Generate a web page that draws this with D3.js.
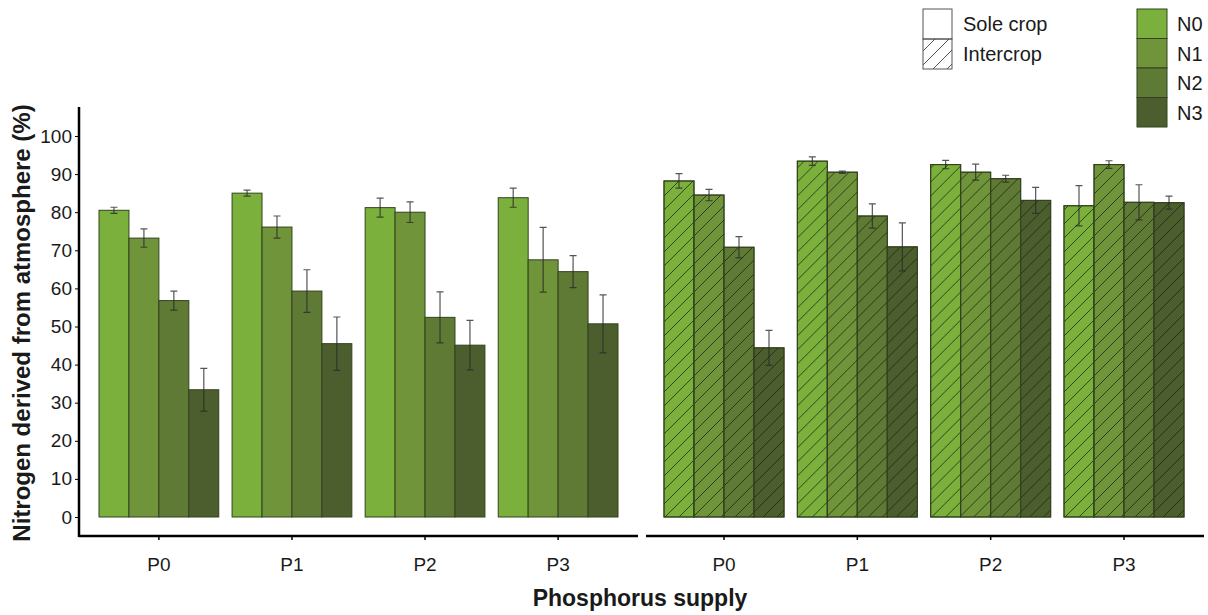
<!DOCTYPE html>
<html>
<head>
<meta charset="utf-8">
<script src="https://cdn.jsdelivr.net/npm/d3@7"></script>
<style>
  body { margin: 0; background: #fff; }
  text { font-family: "Liberation Sans", Arial, sans-serif; fill: #1a1a1a; }
</style>
</head>
<body>
<script>
// values
const phosphorus = ['P0', 'P1', 'P2', 'P3'];
const nitrogen = ['N0', 'N1', 'N2', 'N3'];
const cropping = ['Sole crop', 'Intercrop'];

// rows = phosphorus level, columns = nitrogen level
const soleMeans = [
  [80.5, 73.2, 56.8, 33.4],
  [85.0, 76.1, 59.3, 45.5],
  [81.2, 80.0, 52.4, 45.1],
  [83.8, 67.5, 64.4, 50.7]
];
const soleErrors = [
  [0.8, 2.4, 2.5, 5.6],
  [0.8, 2.9, 5.6, 7.0],
  [2.5, 2.7, 6.7, 6.5],
  [2.5, 8.5, 4.2, 7.6]
];
const interMeans = [
  [88.2, 84.5, 70.8, 44.4],
  [93.4, 90.5, 79.0, 70.9],
  [92.5, 90.5, 88.8, 83.1],
  [81.7, 92.5, 82.6, 82.5]
];
const interErrors = [
  [1.9, 1.5, 2.8, 4.6],
  [1.1, 0.3, 3.2, 6.3],
  [1.1, 2.1, 0.9, 3.4],
  [5.3, 1.0, 4.6, 1.7]
];
const yTicks = [0, 10, 20, 30, 40, 50, 60, 70, 80, 90, 100];

const width = 1208, height = 615;
const greens = d3.scaleOrdinal()
  .domain(nitrogen)
  .range(['#7bb03c', '#6f9439', '#5f7a34', '#4c5e2e']);

const svg = d3.select('body').append('svg')
  .attr('width', width)
  .attr('height', height);

// hatch for the intercrop bars
svg.append('defs').append('pattern')
  .attr('id', 'hatch')
  .attr('patternUnits', 'userSpaceOnUse')
  .attr('width', 14)
  .attr('height', 14)
  .append('path')
    .attr('d', 'M0,14 L14,0 M-3.5,3.5 L3.5,-3.5 M10.5,17.5 L17.5,10.5')
    .attr('stroke', 'rgba(25,35,15,0.75)')
    .attr('stroke-width', 1);

const y = d3.scaleLinear().domain([0, 100]).range([517, 136]);
const axisY = 536;

const panels = [
  { name: cropping[0], means: soleMeans, errors: soleErrors, range: [99, 618], line: [79, 638], hatch: false },
  { name: cropping[1], means: interMeans, errors: interErrors, range: [664, 1184], line: [646, 1204], hatch: true }
];

panels.forEach(panel => {
  const x = d3.scaleBand().domain(phosphorus).range(panel.range).paddingInner(0.1);
  const xn = d3.scaleBand().domain(nitrogen).range([0, x.bandwidth()]);

  const rows = phosphorus.map((p, i) => ({
    p,
    bars: nitrogen.map((n, j) => ({ n, v: panel.means[i][j], e: panel.errors[i][j] }))
  }));

  const groups = svg.append('g').selectAll('g')
    .data(rows)
    .join('g')
      .attr('transform', d => `translate(${x(d.p)},0)`);

  const bars = groups.selectAll('g.bar')
    .data(d => d.bars)
    .join('g')
      .attr('class', 'bar');

  bars.append('rect')
    .attr('x', d => xn(d.n))
    .attr('y', d => y(d.v))
    .attr('width', xn.bandwidth())
    .attr('height', d => y(0) - y(d.v))
    .attr('fill', d => greens(d.n))
    .attr('stroke', '#33421f')
    .attr('stroke-width', 1);

  if (panel.hatch) {
    bars.append('rect')
      .attr('x', d => xn(d.n))
      .attr('y', d => y(d.v))
      .attr('width', xn.bandwidth())
      .attr('height', d => y(0) - y(d.v))
      .attr('fill', 'url(#hatch)')
      .attr('stroke', '#33421f')
      .attr('stroke-width', 1);
  }

  // error bars
  const cx = d => xn(d.n) + xn.bandwidth() / 2;
  bars.append('path')
    .attr('d', d => {
      const top = y(d.v + d.e), bot = y(d.v - d.e), c = cx(d);
      return `M${c},${top}V${bot}M${c - 3.5},${top}H${c + 3.5}M${c - 3.5},${bot}H${c + 3.5}`;
    })
    .attr('fill', 'none')
    .attr('stroke', '#2a2a2a')
    .attr('stroke-opacity', 0.8)
    .attr('stroke-width', 1.2);

  // x axis
  const gx = svg.append('g')
    .attr('transform', `translate(0,${axisY})`)
    .call(d3.axisBottom(x).tickSize(4).tickPadding(18));
  gx.select('.domain').remove();
  gx.selectAll('.tick line').attr('stroke', '#000').attr('stroke-width', 1.5);
  gx.selectAll('.tick text').style('font-size', '19px').attr('fill', '#1a1a1a');

  svg.append('line')
    .attr('x1', panel.line[0]).attr('x2', panel.line[1])
    .attr('y1', axisY).attr('y2', axisY)
    .attr('stroke', '#000')
    .attr('stroke-width', 2.5);
});

// y axis
const gy = svg.append('g')
  .attr('transform', 'translate(79,0)')
  .call(d3.axisLeft(y).tickValues(yTicks).tickSize(4).tickPadding(3));
gy.select('.domain').remove();
gy.selectAll('.tick line').attr('stroke', '#000');
gy.selectAll('.tick text').style('font-size', '19px').attr('fill', '#1a1a1a');

svg.append('line')
  .attr('x1', 79).attr('x2', 79)
  .attr('y1', 107).attr('y2', axisY + 1)
  .attr('stroke', '#000')
  .attr('stroke-width', 2.5);

// axis titles
svg.append('text')
  .attr('transform', 'translate(30,323) rotate(-90)')
  .attr('text-anchor', 'middle')
  .style('font-size', '24px')
  .style('font-weight', 'bold')
  .text('Nitrogen derived from atmosphere (%)');

svg.append('text')
  .attr('x', 640)
  .attr('y', 606)
  .attr('text-anchor', 'middle')
  .style('font-size', '23px')
  .style('font-weight', 'bold')
  .text('Phosphorus supply');

// legend: cropping system
const legCrop = svg.append('g').attr('transform', 'translate(923,9)');
legCrop.selectAll('rect')
  .data(cropping)
  .join('rect')
    .attr('x', 0)
    .attr('y', (d, i) => i * 30)
    .attr('width', 29)
    .attr('height', 30)
    .attr('fill', (d, i) => i === 0 ? '#fff' : 'url(#hatch)')
    .attr('stroke', '#555')
    .attr('stroke-width', 1);
legCrop.selectAll('text')
  .data(cropping)
  .join('text')
    .attr('x', 40)
    .attr('y', (d, i) => i * 30 + 22)
    .style('font-size', '20px')
    .text(d => d);

// legend: nitrogen level
const legN = svg.append('g').attr('transform', 'translate(1137,9)');
legN.selectAll('rect')
  .data(nitrogen)
  .join('rect')
    .attr('x', 0)
    .attr('y', (d, i) => i * 29.5)
    .attr('width', 30)
    .attr('height', 29.5)
    .attr('fill', d => greens(d))
    .attr('stroke', '#33421f')
    .attr('stroke-width', 1);
legN.selectAll('text')
  .data(nitrogen)
  .join('text')
    .attr('x', 40)
    .attr('y', (d, i) => i * 29.5 + 22)
    .style('font-size', '20px')
    .text(d => d);
</script>
</body>
</html>
